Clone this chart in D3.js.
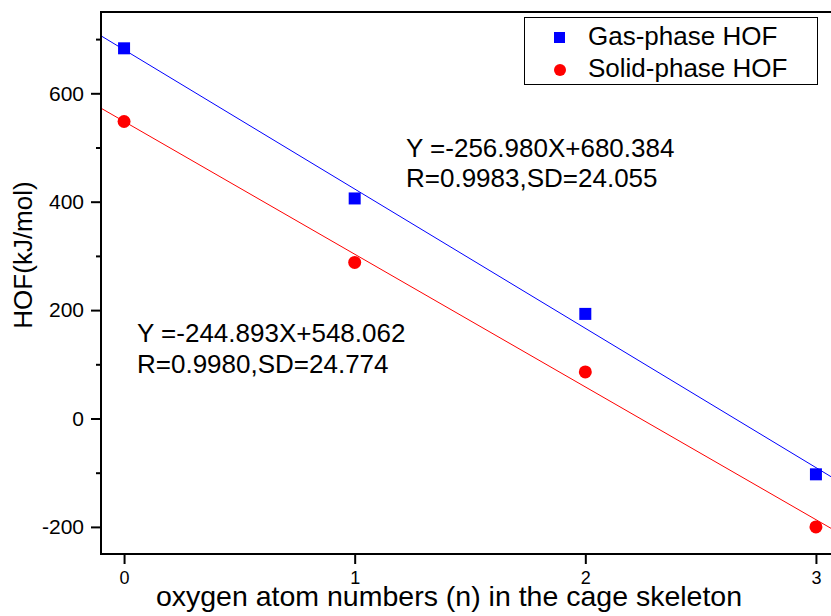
<!DOCTYPE html>
<html><head><meta charset="utf-8">
<script src="https://cdn.jsdelivr.net/npm/d3@7"></script>
<style>body{margin:0;background:#fff}svg{display:block}text{font-family:"Liberation Sans",Arial,sans-serif}</style>
</head><body><svg id="c" width="831" height="616"></svg>
<script>
const xValues = [0, 1, 2, 3];
const gasHOF = [683, 406, 193, -103];
const solidHOF = [548, 288, 86, -200];
const gasFit = {slope: -256.980, intercept: 680.384};
const solidFit = {slope: -244.893, intercept: 548.062};
const yTicks = [-200, 0, 200, 400, 600];
const yMinor = [-100, 100, 300, 500, 700];
const xTicks = [0, 1, 2, 3];
const seriesNames = ["Gas-phase HOF", "Solid-phase HOF"];
const gasText = ["Y =-256.980X+680.384", "R=0.9983,SD=24.055"];
const solidText = ["Y =-244.893X+548.062", "R=0.9980,SD=24.774"];

const svg = d3.select("#c");
const L = 101, R = 839, T = 12, B = 554;
const x = d3.scaleLinear().domain([-0.1, 3.1]).range([L, R]);
const y = d3.scaleLinear().domain([-250, 750]).range([B, T]);
const fmt = d => String(d);

svg.append("defs").append("clipPath").attr("id","clip").append("rect")
  .attr("x", L).attr("y", T).attr("width", R-L).attr("height", B-T);

// fit lines
[[gasFit, "#0000ff"], [solidFit, "#ff0000"]].forEach(([f, c]) => {
  const xs = x.domain();
  svg.append("line").attr("clip-path","url(#clip)")
    .attr("x1", x(xs[0])).attr("y1", y(f.slope*xs[0]+f.intercept))
    .attr("x2", x(xs[1])).attr("y2", y(f.slope*xs[1]+f.intercept))
    .attr("stroke", c).attr("stroke-width", 1);
});

// markers
svg.selectAll(".sq").data(xValues).enter().append("rect")
  .attr("x", d=>x(d)-6).attr("y",(d,i)=>y(gasHOF[i])-6)
  .attr("width",12).attr("height",12).attr("fill","#0000ff");
svg.selectAll(".ci").data(xValues).enter().append("circle")
  .attr("cx",d=>x(d)).attr("cy",(d,i)=>y(solidHOF[i])).attr("r",6.5).attr("fill","#ff0000");

// axes
const yAxis = svg.append("g").attr("transform",`translate(${L},0)`)
  .call(d3.axisLeft(y).tickValues(yTicks).tickSize(10).tickPadding(7).tickFormat(fmt));
svg.append("g").attr("transform",`translate(${L},0)`)
  .call(d3.axisLeft(y).tickValues(yMinor).tickSize(5).tickFormat(""));
const xAxis = svg.append("g").attr("transform",`translate(0,${B})`)
  .call(d3.axisBottom(x).tickValues(xTicks).tickSize(10).tickPadding(7).tickFormat(fmt));
svg.selectAll(".domain").remove();
svg.selectAll(".tick line").attr("stroke","#000").attr("stroke-width",2);
yAxis.selectAll("text").attr("font-size",21).attr("fill","#000");
xAxis.selectAll("text").attr("font-size",18).attr("fill","#000");

// frame lines
svg.append("line").attr("x1",L).attr("x2",L).attr("y1",T).attr("y2",B+1).attr("stroke","#000").attr("stroke-width",2);
svg.append("line").attr("x1",L-1).attr("x2",R).attr("y1",B).attr("y2",B).attr("stroke","#000").attr("stroke-width",2);
svg.append("line").attr("x1",L-1).attr("x2",R).attr("y1",T).attr("y2",T).attr("stroke","#000").attr("stroke-width",2);

// titles
svg.append("text").attr("x",449).attr("y",606).attr("text-anchor","middle").attr("font-size",28.5).text("oxygen atom numbers (n) in the cage skeleton");
svg.append("text").attr("transform","translate(32,255) rotate(-90)").attr("text-anchor","middle").attr("font-size",26).text("HOF(kJ/mol)");

// legend
const lg = svg.append("g");
lg.append("rect").attr("x",524.5).attr("y",17.5).attr("width",293).attr("height",67).attr("fill","#fff").attr("stroke","#000").attr("stroke-width",1);
lg.append("rect").attr("x",554).attr("y",32).attr("width",11).attr("height",11).attr("fill","#0000ff");
lg.append("circle").attr("cx",560).attr("cy",70).attr("r",6).attr("fill","#ff0000");
lg.append("text").attr("x",588).attr("y",45).attr("font-size",26).text(seriesNames[0]);
lg.append("text").attr("x",588).attr("y",77).attr("font-size",26).text(seriesNames[1]);

// annotations
gasText.forEach((t,i)=>svg.append("text").attr("x",406).attr("y",157+i*30).attr("font-size",26).text(t));
solidText.forEach((t,i)=>svg.append("text").attr("x",137).attr("y",342+i*31).attr("font-size",26).text(t));
</script></body></html>
